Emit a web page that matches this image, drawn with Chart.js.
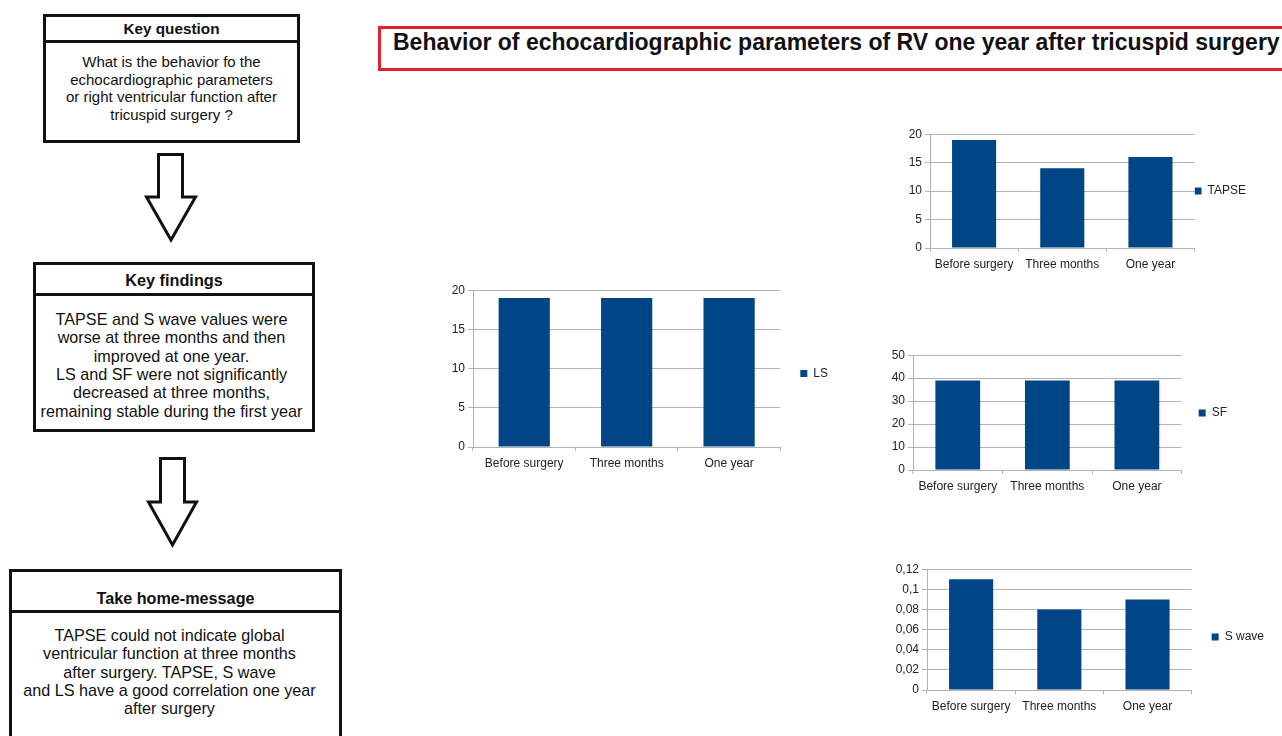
<!DOCTYPE html>
<html><head><meta charset="utf-8">
<script src="https://cdn.jsdelivr.net/npm/chart.js@4/dist/chart.umd.min.js"></script>
<style>
html,body{margin:0;padding:0;background:#fff;width:1282px;height:736px;overflow:hidden;font-family:"Liberation Sans",Arial,sans-serif;color:#111}
.box{position:absolute;border:3px solid #111;box-sizing:border-box;background:#fff}
.hdr{border-bottom:3px solid #111;font-weight:bold;text-align:center;box-sizing:border-box;white-space:nowrap}
.bd{text-align:center;white-space:nowrap}
.chart{position:absolute}
#title{position:absolute;left:378px;top:26px;width:930px;height:45px;border:3px solid #e3212b;box-sizing:border-box;font-weight:bold;font-size:23px;line-height:26px;padding-left:12px;white-space:nowrap;color:#111}
svg{position:absolute;left:0;top:0}
</style>
</head><body>
<svg width="360" height="736">
  <polygon points="158.5,154.5 182.5,154.5 182.5,197 195.5,197 171,240 146.5,197 158.5,197" fill="#fff" stroke="#111" stroke-width="3" stroke-linejoin="miter"/>
  <polygon points="160.5,458.5 184.5,458.5 184.5,502 196.5,502 172.5,545 148.5,502 160.5,502" fill="#fff" stroke="#111" stroke-width="3" stroke-linejoin="miter"/>
</svg>
<div class="box" style="left:43px;top:14px;width:257px;height:129px">
  <div class="hdr" style="height:26px;font-size:15.3px;line-height:23px">Key question</div>
  <div class="bd" style="font-size:15px;line-height:17.5px;padding-top:10px">What is the behavior fo the<br>echocardiographic parameters<br>or right ventricular function after<br>tricuspid surgery ?</div>
</div>
<div class="box" style="left:33px;top:262px;width:282px;height:170px">
  <div class="hdr" style="height:31px;font-size:16.3px;line-height:25px;padding-top:3px">Key findings</div>
  <div class="bd" style="font-size:16.2px;line-height:18.33px;padding-top:14px;padding-right:5px">TAPSE and S wave values were<br>worse at three months and then<br>improved at one year.<br>LS and SF were not significantly<br>decreased at three months,<br>remaining stable during the first year</div>
</div>
<div class="box" style="left:9px;top:569px;width:333px;height:200px">
  <div class="hdr" style="height:41px;font-size:16.2px;line-height:19px;padding-top:17px">Take home-message</div>
  <div class="bd" style="font-size:16.2px;line-height:18.33px;padding-top:13px;padding-right:12px">TAPSE could not indicate global<br>ventricular function at three months<br>after surgery. TAPSE, S wave<br>and LS have a good correlation one year<br>after surgery</div>
</div>
<div id="title">Behavior of echocardiographic parameters of RV one year after tricuspid surgery</div>

<div class="chart" id="wLS"><canvas id="cLS"></canvas></div>
<div class="chart" id="wTAPSE"><canvas id="cTAPSE"></canvas></div>
<div class="chart" id="wSF"><canvas id="cSF"></canvas></div>
<div class="chart" id="wSW"><canvas id="cSW"></canvas></div>

<script>
// ---- data ----
const categories = ['Before surgery', 'Three months', 'One year'];
const lsValues = [19, 19, 19];
const tapseValues = [19, 14, 16];
const sfValues = [39, 39, 39];
const sWaveValues = [0.11, 0.08, 0.09];
// y-axis ranges: [min, max, step]
const lsAxis = [0, 20, 5];
const tapseAxis = [0, 20, 5];
const sfAxis = [0, 50, 10];
const sWaveAxis = [0, 0.12, 0.02];

// ---- style ----
const BAR = '#004586';
const GRID = '#b3b3b3';
const TXT = '#222';
const FAMILY = '"Liberation Sans", Arial, sans-serif';
Chart.defaults.font.family = FAMILY;
Chart.defaults.font.size = 12;
Chart.defaults.color = TXT;
Chart.defaults.animation = false;

const commaFmt = v => String(+Number(v).toFixed(2)).replace('.', ',');
const mctx = document.createElement('canvas').getContext('2d');
mctx.font = '12px ' + FAMILY;

function makeChart(wrapId, canvasId, label, values, axis, geo) {
  const yw = 40, padTop = 10, xh = 27, BOX = 7;
  const legendW = Math.ceil(geo.lp + BOX + 6 + mctx.measureText(label).width + 10);
  const divLeft = geo.PL - yw, divTop = geo.PT - padTop;
  const H = geo.PB - divTop + xh;
  const W = (geo.PR - divLeft) + legendW;
  const shift = Math.max(0, 2 * (geo.LC - (geo.PT + geo.PB) / 2));
  const wrap = document.getElementById(wrapId);
  wrap.style.left = divLeft + 'px';
  wrap.style.top = divTop + 'px';
  wrap.style.width = W + 'px';
  wrap.style.height = H + 'px';
  return new Chart(document.getElementById(canvasId), {
    type: 'bar',
    data: {
      labels: categories,
      datasets: [{
        label: label,
        data: values,
        backgroundColor: BAR,
        borderColor: BAR,
        borderWidth: 0,
        categoryPercentage: 1,
        barPercentage: 0.5
      }]
    },
    options: {
      responsive: true,
      maintainAspectRatio: false,
      layout: { padding: { top: padTop, right: 0, bottom: 0, left: 0 } },
      plugins: {
        legend: {
          position: 'right',
          fullSize: false,
          title: { display: shift > 0, text: '', padding: 0, font: { size: 10, lineHeight: (shift || 1) + 'px' } },
          labels: { boxWidth: BOX, boxHeight: BOX, padding: geo.lp, color: TXT, font: { size: 12 } }
        },
        tooltip: { enabled: false }
      },
      scales: {
        x: {
          grid: { display: true, drawOnChartArea: false, drawTicks: true, tickLength: 4, color: GRID, offset: true },
          border: { color: GRID },
          ticks: { padding: 5, maxRotation: 0, autoSkip: false, color: TXT },
          afterFit: s => { s.height = xh; }
        },
        y: {
          min: axis[0], max: axis[1],
          grid: { color: GRID, tickLength: 5 },
          border: { color: GRID },
          ticks: { stepSize: axis[2], padding: 3, color: TXT, callback: commaFmt },
          afterFit: s => { s.width = yw; }
        }
      }
    }
  });
}

makeChart('wLS', 'cLS', 'LS', lsValues, lsAxis, { PL: 473, PT: 290, PR: 780, PB: 447, LC: 373.5, lp: 20 });
makeChart('wTAPSE', 'cTAPSE', 'TAPSE', tapseValues, tapseAxis, { PL: 930, PT: 134, PR: 1194, PB: 248, LC: 191, lp: 0 });
makeChart('wSF', 'cSF', 'SF', sfValues, sfAxis, { PL: 913, PT: 355, PR: 1181, PB: 470, LC: 413, lp: 17 });
makeChart('wSW', 'cSW', 'S wave', sWaveValues, sWaveAxis, { PL: 927, PT: 569, PR: 1191, PB: 690, LC: 637, lp: 20 });
</script>
</body></html>
